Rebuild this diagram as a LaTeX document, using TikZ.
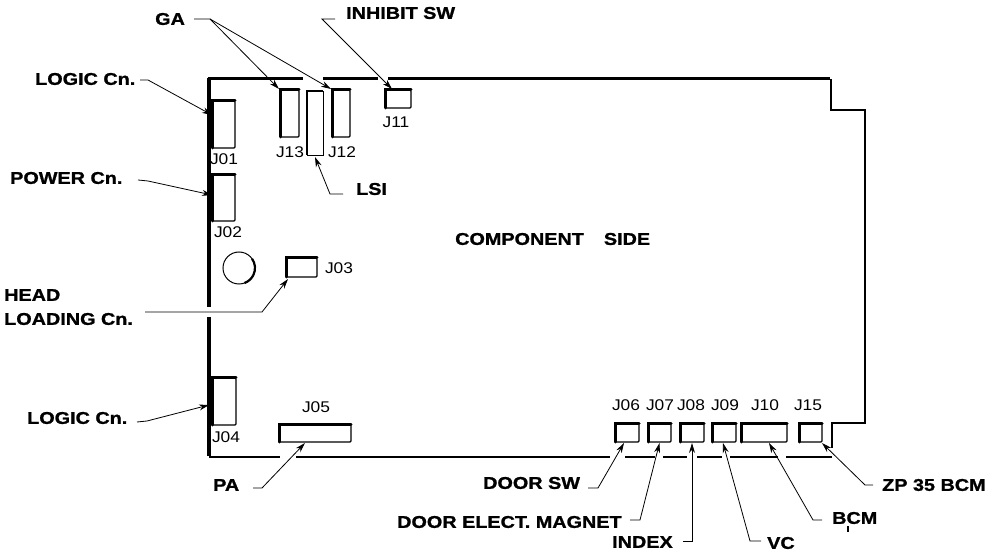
\documentclass[tikz,border=0pt]{standalone}
\usepackage{fontspec}
\setmainfont[FakeStretch=1.12]{Liberation Sans}
\newfontfamily\labfont[FakeStretch=1.165,BoldFeatures={FakeBold=1.2}]{Liberation Sans}
\usetikzlibrary{arrows.meta}
\tikzset{
  x=1pt,y=-1pt,
  lab/.style={anchor=west,inner sep=0pt,font=\labfont\fontsize{17}{17}\selectfont\bfseries},
  jlab/.style={inner sep=0pt,font=\fontsize{15.5}{15.5}\selectfont},
  cbox/.style={draw,line width=1.2pt,anchor=north west,inner sep=0pt,outer sep=0pt,rounded corners=1pt},
  edgeT/.style={line width=3pt,line cap=round},
  conn/.style={line width=.8pt,-{Stealth[length=10pt,width=6pt]}},
  brdT/.style={line width=3pt},
  brdL/.style={line width=3.5pt},
  brdN/.style={line width=1.4pt}
}
\newcommand{\cbx}[5]{%
  \node[cbox,minimum width={#4-#2},minimum height={#5-#3}] (#1) at (#2,#3) {};
  \draw[edgeT] (#1.south west) -- (#1.north west) -- (#1.north east);}
\begin{document}
\begin{tikzpicture}
\useasboundingbox (0,0) rectangle (991,553);
% board outline
\draw[brdT] (207.5,79) -- (303,79);
\draw[brdT] (323,79) -- (378,79);
\draw[brdT] (388,79) -- (830,79);
\draw[brdN] (831,79) -- (831,110) -- (865,110) -- (865,423) -- (832,423) -- (832,448);
\draw[brdL] (209,78) -- (209,307);
\draw[brdL] (209,317) -- (209,456);
\draw[brdN] (209,457) -- (280,457);
\draw[brdN] (296,457) -- (610,457);
\draw[brdN] (625,457) -- (655,457);
\draw[brdN] (663,457) -- (687,457);
\draw[brdN] (697,457) -- (722,457);
\draw[brdN] (730,457) -- (778,457);
\draw[brdN] (786,457) -- (832,457);
% connectors' boxes
\cbx{j01}{212}{101}{235}{148}
\cbx{j02}{212}{175}{235}{221}
\cbx{j13}{280}{90}{299}{137}
\cbx{j12}{332}{90}{350}{137}
\cbx{j11}{385}{90}{411}{108}
\cbx{j03}{286}{258}{317}{277}
\cbx{j04}{212}{378}{236}{425}
\cbx{j05}{279}{424}{351}{442}
\cbx{j06}{615}{423}{639}{442}
\cbx{j07}{648}{423}{671}{442}
\cbx{j08}{680}{423}{704}{442}
\cbx{j09}{712}{423}{736}{442}
\cbx{j10}{741}{423}{787}{442}
\cbx{j15}{799}{423}{822}{442}
% LSI
\node[draw,line width=.6pt,anchor=north west,inner sep=0pt,outer sep=0pt,minimum width=16pt,minimum height=64pt] (lsi) at (307,91) {};
\draw[line width=2pt] (lsi.south west) -- (lsi.north west) -- (lsi.north east);
% hole
\node[draw,circle,line width=1pt,inner sep=0pt,outer sep=0pt,minimum size=32pt] (hole) at (239,268) {};
\draw[line width=2.2pt] (hole.35) arc[start angle=35,end angle=-70,radius=16pt];
% J labels
\node[jlab] (t01) at (224,159) {J01};
\node[jlab] (t02) at (228,232) {J02};
\node[jlab] (t13) at (290,152) {J13};
\node[jlab] (t12) at (342,152) {J12};
\node[jlab] (t11) at (396,122) {J11};
\node[jlab] (t03) at (339,268) {J03};
\node[jlab] (t04) at (226,437) {J04};
\node[jlab] (t05) at (316,407) {J05};
\node[jlab] (t06) at (626,405) {J06};
\node[jlab] (t07) at (660,405) {J07};
\node[jlab] (t08) at (691,405) {J08};
\node[jlab] (t09) at (725,405) {J09};
\node[jlab] (t10) at (765,405) {J10};
\node[jlab] (t15) at (808,405) {J15};
% bold labels
\node[lab] (lga) at (155,19) {GA};
\node[lab] (linh) at (346,13) {INHIBIT SW};
\node[lab] (llog) at (35,79) {LOGIC Cn.};
\node[lab] (lpow) at (10,178) {POWER Cn.};
\node[lab] (llsi) at (356,189) {LSI};
\node[lab] (lhead) at (4,295) {HEAD};
\node[lab] (lload) at (4,319) {LOADING Cn.};
\node[lab] (llog2) at (27,418) {LOGIC Cn.};
\node[lab] (lpa) at (213,485) {PA};
\node[lab] (ldsw) at (483,483) {DOOR SW};
\node[lab] (lmag) at (397,522) {DOOR ELECT. MAGNET};
\node[lab] (lidx) at (612,542) {INDEX};
\node[lab] (lvc) at (767,543) {VC};
\node[lab] (lbcm) at (832,518) {BCM};
\node[lab] (lzp) at (882,485) {ZP 35 BCM};
\node[lab] (lcomp) at (455,239) {COMPONENT\hspace{20pt}SIDE};
% stubs and bends
\coordinate (sga) at (194,19);   \coordinate (bga) at (210,19);
\coordinate (sinh) at (335,19);  \coordinate (binh) at (322,19);
\coordinate (slog) at (140,80);  \coordinate (blog) at (148,80);
\coordinate (spow) at (138,180); \coordinate (bpow) at (148,181);
\coordinate (slsi) at (343,194); \coordinate (blsi) at (330,194);
\coordinate (shead) at (145,312);\coordinate (bhead) at (262,312);
\coordinate (slog2) at (137,422);\coordinate (blog2) at (147,421);
\coordinate (spa) at (253,488);  \coordinate (bpa) at (262,488);
\coordinate (sdsw) at (588,488); \coordinate (bdsw) at (598,488);
\coordinate (smag) at (630,520); \coordinate (bmag) at (640,520);
\coordinate (sidx) at (683,541); \coordinate (bidx) at (692,541);
\coordinate (svc) at (761,541);  \coordinate (bvc) at (750,541);
\coordinate (sbcm) at (822,520); \coordinate (bbcm) at (813,520);
\coordinate (szp) at (873,485);  \coordinate (bzp) at (865,485);
% leaders
\draw[conn] (sga) -- (bga) -- ([shift={(-1pt,1pt)}]j13.north west);
\draw[conn] (bga) -- ([shift={(-1pt,1pt)}]j12.north west);
\draw[conn] (sinh) -- (binh) -- ([xshift=-6pt,yshift=1pt]j11.north);
\draw[conn] (slog) -- (blog) -- ([yshift=-14pt]j01.north west);
\draw[conn] (spow) -- (bpow) -- ([yshift=-20pt]j02.north west);
\draw[conn] (slsi) -- (blsi) -- ([yshift=-2pt]lsi.south);
\draw[conn] (shead) -- (bhead) -- ([xshift=2pt,yshift=-2pt]j03.south west);
\draw[conn] (slog2) -- (blog2) -- ([xshift=-3pt,yshift=-27pt]j04.north west);
\draw[conn] (spa) -- (bpa) -- ([xshift=-10pt,yshift=-1pt]j05.south);
\draw[conn] (sdsw) -- (bdsw) -- ([xshift=-3pt,yshift=-1pt]j06.south);
\draw[conn] (smag) -- (bmag) -- ([yshift=-1pt]j07.south);
\draw[conn] (sidx) -- (bidx) -- ([yshift=-1pt]j08.south);
\draw[conn] (svc) -- (bvc) -- ([xshift=-1pt,yshift=-1pt]j09.south);
\draw[conn] (sbcm) -- (bbcm) -- ([xshift=5pt,yshift=-1pt]j10.south);
\draw[conn] (szp) -- (bzp) -- ([yshift=-1pt]j15.south east);
% speck below BCM
\fill (846.5,526) rectangle (849,532);
\end{tikzpicture}
\end{document}
